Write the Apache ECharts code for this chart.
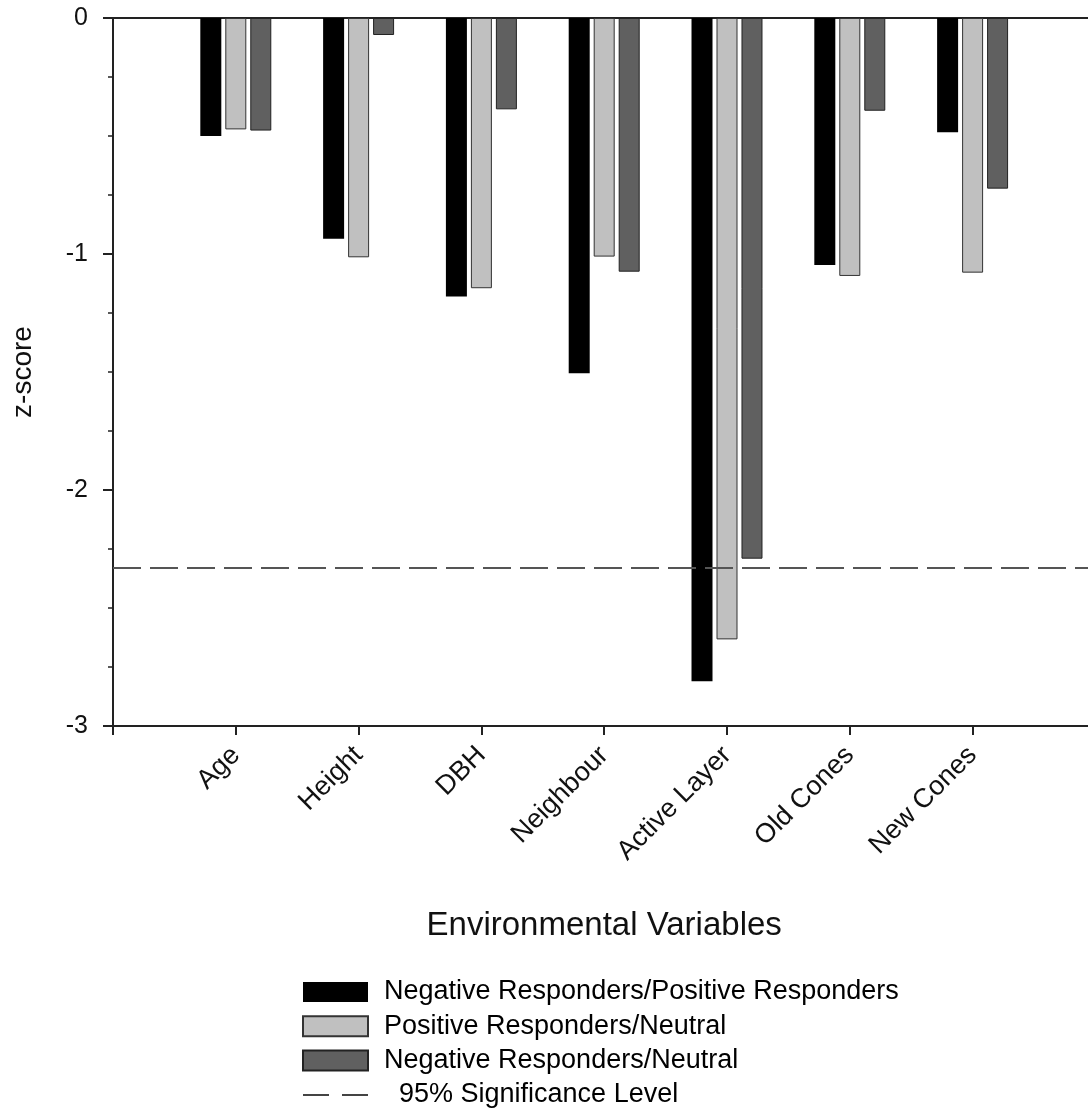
<!DOCTYPE html>
<html>
<head>
<meta charset="utf-8">
<script src="https://cdn.jsdelivr.net/npm/echarts@6/dist/echarts.min.js"></script>
<style>
html,body{margin:0;padding:0;background:#fff;overflow:hidden;}
#chart{width:1100px;height:1111px;}
</style>
</head>
<body>
<div id="chart"></div>
<script>
// Categories (leading/trailing blanks give the axis origin and end slots)
var categories = ['', 'Age', 'Height', 'DBH', 'Neighbour', 'Active Layer', 'Old Cones', 'New Cones', ''];
var seriesNames = ['Negative Responders/Positive Responders', 'Positive Responders/Neutral', 'Negative Responders/Neutral'];
var negPos = [null, -0.50, -0.935, -1.18, -1.505, -2.81, -1.047, -0.484, null];
var posNeu = [null, -0.472, -1.014, -1.145, -1.011, -2.633, -1.093, -1.079, null];
var negNeu = [null, -0.477, -0.072, -0.387, -1.075, -2.291, -0.393, -0.723, null];
var sigName = '95% Significance Level';
var sigLevel = -2.33;
var yTicks = [0, -1, -2, -3];

var FONT = '"Liberation Sans", Arial, sans-serif';
var chart = echarts.init(document.getElementById('chart'), null, {renderer: 'canvas'});

function barSeries(name, data, color, border) {
  return {
    name: name, type: 'bar', data: data,
    barWidth: 21, barGap: '19%',
    itemStyle: {color: color, borderColor: border, borderWidth: border ? 1 : 0},
    emphasis: {disabled: true}
  };
}

// legend icon: two short dashes
var dashIcon = 'path://M0,0h0.01v0.01h-0.01z M0,9h26v2h-26z M39,9h26v2h-26z M64.99,19.99h0.01v0.01h-0.01z';

var option = {
  backgroundColor: '#fff',
  animation: false,
  textStyle: {fontFamily: FONT},
  grid: {left: 113, top: 18, height: 708, width: 982.4},
  xAxis: [{
    type: 'category', data: categories, boundaryGap: false, position: 'bottom',
    name: 'Environmental Variables', nameLocation: 'middle', nameGap: 183,
    nameTextStyle: {fontSize: 33, color: '#111', fontFamily: FONT},
    axisLine: {onZero: false, lineStyle: {color: '#222', width: 2}},
    axisTick: {show: true, length: 9, alignWithLabel: true, lineStyle: {color: '#222', width: 2}},
    axisLabel: {rotate: 45, fontSize: 27, color: '#111', margin: 25, interval: 0, fontFamily: FONT},
    splitLine: {show: false}
  }, {
    type: 'category', data: categories, boundaryGap: false, position: 'top',
    axisLine: {onZero: false, lineStyle: {color: '#222', width: 2}},
    axisTick: {show: false}, axisLabel: {show: false}, splitLine: {show: false}
  }],
  yAxis: {
    type: 'value', min: -3, max: 0, interval: 1,
    name: 'z-score', nameLocation: 'middle', nameGap: 76, nameRotate: 90,
    nameTextStyle: {fontSize: 28, color: '#111', fontFamily: FONT},
    axisLine: {show: true, onZero: false, lineStyle: {color: '#222', width: 2}},
    axisTick: {show: true, length: 10, lineStyle: {color: '#222', width: 2}},
    minorTick: {show: true, splitNumber: 4, length: 5, lineStyle: {color: '#222', width: 1.5}},
    axisLabel: {fontSize: 25, color: '#111', margin: 25, fontFamily: FONT,
      formatter: function (v) { return yTicks.indexOf(v) >= 0 ? String(v) : ''; }},
    splitLine: {show: false}
  },
  legend: {
    orient: 'vertical', left: 302, top: 978.5, height: 132, padding: 0,
    itemWidth: 65, itemHeight: 20, itemGap: 7.3,
    textStyle: {fontSize: 27, color: '#000', fontFamily: FONT, padding: [0, 0, 0, 11]},
    formatter: function (n) { return n === sigName ? '  ' + n : n; },
    data: [
      {name: seriesNames[0], icon: 'rect'},
      {name: seriesNames[1], icon: 'rect'},
      {name: seriesNames[2], icon: 'rect'},
      {name: sigName, icon: dashIcon, itemStyle: {color: '#444', borderWidth: 0}}
    ]
  },
  series: [
    barSeries(seriesNames[0], negPos, '#000000', null),
    barSeries(seriesNames[1], posNeu, '#c0c0c0', '#333333'),
    barSeries(seriesNames[2], negNeu, '#606060', '#222222'),
    {
      name: sigName, type: 'line', data: [], symbol: 'none',
      lineStyle: {type: [28, 9], color: '#555', width: 2},
      itemStyle: {color: '#444'},
      markLine: {
        silent: true, symbol: 'none', label: {show: false},
        lineStyle: {type: [28, 9], color: '#555', width: 2},
        data: [{yAxis: sigLevel}]
      }
    }
  ]
};
chart.setOption(option);
</script>
</body>
</html>
